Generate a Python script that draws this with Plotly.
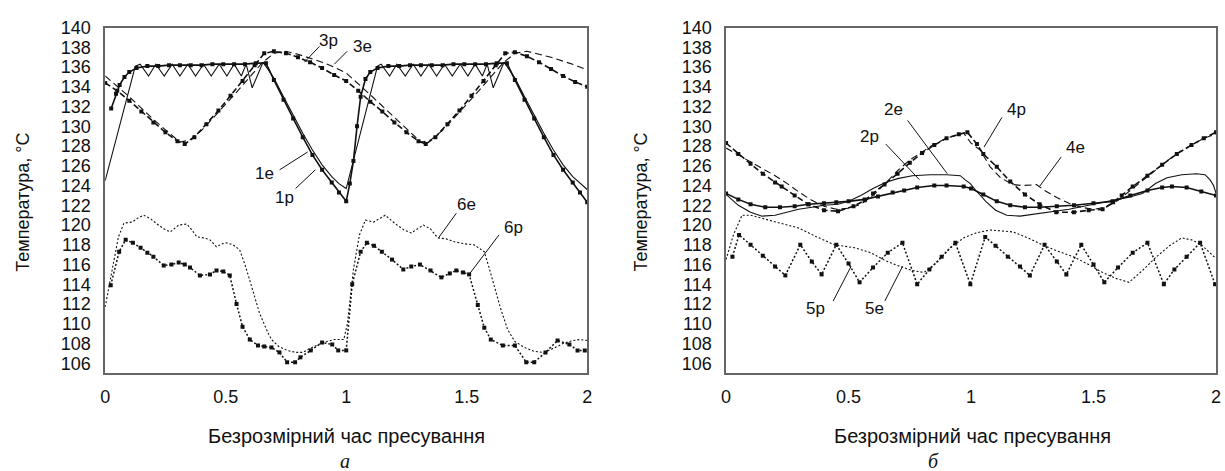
import plotly.graph_objects as go

# ---------------- Panel a (left) ----------------
x_1p = [0.025, 0.045, 0.06, 0.08, 0.1, 0.13, 0.175, 0.22, 0.265, 0.31, 0.355, 0.4, 0.445, 0.49, 0.535, 0.58, 0.625, 0.667,
        0.7, 0.74, 0.78, 0.82, 0.86, 0.9, 0.94, 0.97, 1.0,
        1.015, 1.03, 1.045, 1.06, 1.08, 1.1, 1.13, 1.175, 1.22, 1.265, 1.31, 1.355, 1.4, 1.445, 1.49, 1.535, 1.58, 1.625, 1.667,
        1.7, 1.74, 1.78, 1.82, 1.86, 1.9, 1.94, 1.97, 2.0]
t_1p = [131.8, 133.3, 134.2, 135.0, 135.5, 135.9, 136.1, 136.1, 136.2, 136.2, 136.2, 136.2, 136.3, 136.3, 136.3, 136.3, 136.4, 136.4,
        134.7, 132.7, 130.8, 128.9, 127.1, 125.6, 124.3, 123.3, 122.4,
        124.2, 126.5, 130.0, 133.0, 134.8, 135.5, 135.9, 136.1, 136.1, 136.2, 136.2, 136.2, 136.2, 136.3, 136.3, 136.3, 136.3, 136.4, 136.4,
        134.7, 132.7, 130.8, 128.9, 127.1, 125.6, 124.3, 123.3, 122.3]

x_1e = [0.0, 0.125, 0.145, 0.18, 0.21, 0.245, 0.278, 0.31, 0.343, 0.375, 0.408, 0.44, 0.473, 0.505, 0.535, 0.565, 0.585, 0.61, 0.655,
        0.7, 0.74, 0.78, 0.82, 0.86, 0.9, 0.94, 0.97, 1.0,
        1.13, 1.145, 1.18, 1.21, 1.245, 1.278, 1.31, 1.343, 1.375, 1.408, 1.44, 1.473, 1.505, 1.535, 1.565, 1.585, 1.61, 1.655,
        1.7, 1.74, 1.78, 1.82, 1.86, 1.9, 1.94, 1.97, 2.0]
t_1e = [124.5, 136.1, 136.3, 135.1, 136.3, 135.1, 136.3, 135.1, 136.3, 135.1, 136.3, 135.1, 136.3, 135.1, 136.3, 135.1, 136.3, 133.9, 136.5,
        134.9, 133.0, 131.1, 129.3, 127.6, 126.1, 124.9, 124.2, 123.7,
        136.1, 136.3, 135.1, 136.3, 135.1, 136.3, 135.1, 136.3, 135.1, 136.3, 135.1, 136.3, 135.1, 136.3, 135.1, 136.3, 133.9, 136.5,
        134.9, 133.0, 131.1, 129.3, 127.6, 126.1, 124.9, 124.2, 123.6]

x_3p = [0.0, 0.05, 0.1, 0.15, 0.2, 0.25, 0.3, 0.33, 0.37, 0.42, 0.47, 0.52, 0.57, 0.62, 0.66, 0.7, 0.75, 0.8, 0.85, 0.9, 0.95,
        1.0, 1.05, 1.1, 1.15, 1.2, 1.25, 1.3, 1.33, 1.37, 1.42, 1.47, 1.52, 1.57, 1.62, 1.66, 1.7, 1.75, 1.8, 1.85, 1.9, 1.95, 2.0]
t_3p = [134.4, 133.6, 132.6, 131.5, 130.4, 129.4, 128.5, 128.2, 128.9, 130.2, 131.6, 133.1, 134.6, 136.2, 137.4, 137.6, 137.4, 137.0, 136.5, 135.9, 135.2,
        134.6, 133.6, 132.5, 131.5, 130.4, 129.4, 128.5, 128.2, 128.9, 130.2, 131.6, 133.1, 134.6, 136.2, 137.4, 137.5, 137.1, 136.5, 135.8, 135.1, 134.5, 134.0]

x_3e = [0.0, 0.1, 0.2, 0.31, 0.35, 0.4, 0.45, 0.5, 0.55, 0.6, 0.65, 0.7, 0.75, 0.8, 0.85, 0.9, 0.95,
        1.0, 1.1, 1.2, 1.31, 1.35, 1.4, 1.45, 1.5, 1.55, 1.6, 1.65, 1.7, 1.75, 1.8, 1.85, 1.9, 1.95, 2.0]
t_3e = [135.1, 133.0, 130.7, 128.4, 128.6, 129.6, 130.9, 132.2, 133.6, 135.0, 136.4, 137.4, 137.6, 137.3, 136.9, 136.5, 136.0,
        135.4, 133.2, 130.9, 128.4, 128.6, 129.6, 130.9, 132.2, 133.6, 135.0, 136.4, 137.4, 137.6, 137.3, 137.0, 136.6, 136.2, 135.7]

x_6p = [0.023, 0.058, 0.085, 0.115, 0.147, 0.175, 0.2, 0.243, 0.275, 0.305, 0.33, 0.352, 0.393, 0.435, 0.462, 0.49, 0.517,
        0.545, 0.57, 0.6, 0.634, 0.66, 0.69, 0.723, 0.755, 0.788, 0.81, 0.853, 0.9, 0.942, 0.967, 1.0,
        1.025, 1.06, 1.086, 1.115, 1.148, 1.19, 1.237, 1.27, 1.306, 1.35, 1.395, 1.43, 1.457, 1.485, 1.51,
        1.546, 1.573, 1.6, 1.65, 1.70, 1.747, 1.78, 1.827, 1.877, 1.926, 1.96, 1.99]
t_6p = [113.9, 117.3, 118.5, 118.2, 117.7, 117.2, 116.8, 115.9, 116.0, 116.2, 116.0, 115.7, 114.9, 115.0, 115.4, 115.3, 114.9,
        112.0, 109.7, 108.4, 107.8, 107.7, 107.6, 107.1, 106.1, 106.1, 106.6, 107.3, 108.1, 107.9, 107.3, 107.3,
        114.0, 117.3, 118.2, 117.9, 117.3, 116.5, 115.5, 115.8, 116.0, 115.4, 114.7, 115.1, 115.4, 115.2, 115.0,
        111.9, 109.6, 108.4, 107.8, 107.8, 106.1, 106.1, 107.1, 108.3, 107.9, 107.3, 107.3]

x_6e = [0.0, 0.03, 0.055, 0.078, 0.112, 0.135, 0.16, 0.19, 0.215, 0.245, 0.27, 0.305, 0.339, 0.36, 0.38, 0.41, 0.435, 0.462, 0.485,
        0.503, 0.53, 0.558, 0.58, 0.6, 0.62, 0.64, 0.675, 0.69, 0.72, 0.755, 0.79, 0.82, 0.85, 0.885, 0.92, 0.95, 0.99,
        1.005, 1.03, 1.055, 1.08, 1.114, 1.162, 1.2, 1.24, 1.27, 1.32, 1.35, 1.38, 1.415, 1.45, 1.49, 1.53, 1.573,
        1.595, 1.615, 1.64, 1.67, 1.7, 1.74, 1.78, 1.82, 1.86, 1.9, 1.94, 1.97, 2.0]
t_6e = [111.7, 115.5, 118.8, 120.2, 120.3, 120.7, 121.0, 120.6, 120.1, 119.6, 119.3, 120.0, 120.1, 119.5, 118.8, 118.7, 118.5, 117.8, 118.1,
        118.2, 118.0, 117.5, 116.0, 114.4, 112.7, 111.1, 109.1, 108.4, 107.7, 107.3, 107.1, 107.1, 107.5, 107.9, 108.2, 108.4, 108.4,
        110.0, 115.5, 119.0, 120.5, 120.3, 121.0, 120.2, 119.5, 119.2, 120.0, 119.6, 118.7, 118.6, 118.3, 118.1, 118.0, 117.3,
        115.5, 113.7, 111.6, 109.4, 108.2, 107.6, 107.2, 107.1, 107.5, 108.0, 108.3, 108.4, 108.3]

# ---------------- Panel б (right) ----------------
x_2p = [0.0, 0.05, 0.1, 0.16, 0.22, 0.28, 0.336, 0.4, 0.45, 0.5, 0.566, 0.62, 0.68, 0.727, 0.78, 0.85, 0.9, 0.97,
        1.0, 1.05, 1.105, 1.16, 1.22, 1.28, 1.35, 1.42, 1.5, 1.578, 1.65, 1.72, 1.78, 1.82, 1.88, 1.94, 2.0]
t_2p = [123.2, 122.6, 122.1, 121.8, 121.8, 121.9, 122.1, 122.2, 122.3, 122.4, 122.6, 122.9, 123.3, 123.5, 123.8, 124.0, 124.0, 123.9,
        123.7, 123.1, 122.4, 122.0, 121.8, 121.8, 121.9, 122.0, 122.2, 122.4, 123.0, 123.5, 123.8, 123.9, 123.8, 123.4, 123.0]

x_2e = [0.0, 0.05, 0.1, 0.147, 0.2, 0.25, 0.296, 0.35, 0.4, 0.457, 0.5, 0.55, 0.6, 0.65, 0.7, 0.76, 0.834, 0.9, 0.956, 0.975,
        0.997, 1.02, 1.06, 1.1, 1.146, 1.2, 1.26, 1.32, 1.4, 1.48, 1.578, 1.64, 1.70, 1.753, 1.8, 1.86, 1.92, 1.955, 1.975, 1.99, 2.0]
t_2e = [123.1, 122.0, 121.3, 120.9, 121.0, 121.3, 121.6, 121.8, 122.0, 122.1, 122.4, 123.0, 123.7, 124.3, 124.7, 125.0, 125.1, 125.1, 125.0, 124.6,
        124.2, 123.5, 122.4, 121.5, 121.0, 120.9, 121.1, 121.3, 121.6, 122.0, 122.5, 122.8, 123.2, 124.2, 124.8, 125.1, 125.2, 125.1, 124.6, 124.0, 123.2]

x_4p = [0.0, 0.05, 0.1, 0.15, 0.2, 0.227, 0.28, 0.336, 0.4, 0.457, 0.52, 0.566, 0.6, 0.647, 0.7, 0.75, 0.8, 0.85, 0.9, 0.95, 0.985,
        1.024, 1.05, 1.105, 1.16, 1.22, 1.28, 1.348, 1.42, 1.48, 1.537, 1.58, 1.615, 1.66, 1.72, 1.78, 1.84, 1.9, 1.95, 2.0]
t_4p = [128.3, 127.2, 126.2, 125.2, 124.3, 123.9, 123.0, 122.1, 121.5, 121.4, 121.9, 122.5, 123.2, 124.1, 125.2, 126.3, 127.3, 128.1, 128.8, 129.2, 129.4,
        128.2, 127.2, 125.9, 124.4, 123.1, 122.1, 121.3, 121.3, 121.5, 121.6, 122.3, 123.0, 123.9, 125.0, 126.1, 127.2, 128.1, 128.8, 129.4]

x_4e = [0.0, 0.1, 0.2, 0.25, 0.3, 0.35, 0.4, 0.45, 0.5, 0.55, 0.6, 0.65, 0.7, 0.75, 0.8, 0.85, 0.9, 0.95, 0.97,
        1.0, 1.037, 1.078, 1.12, 1.17, 1.21, 1.267, 1.3, 1.35, 1.4, 1.45, 1.5, 1.55, 1.6, 1.65, 1.7, 1.75, 1.8, 1.85, 1.9, 1.95, 2.0]
t_4e = [127.8, 126.4, 125.0, 124.2, 123.3, 122.5, 121.9, 121.6, 121.7, 122.1, 123.0, 124.2, 125.5, 126.6, 127.4, 128.2, 128.8, 129.2, 129.3,
        128.3, 127.6, 125.9, 124.8, 124.1, 124.0, 124.1, 123.5, 122.8, 122.2, 121.8, 121.6, 121.8, 122.5, 123.5, 124.5, 125.5, 126.5, 127.4, 128.1, 128.8, 129.2]

x_5p = [0.026, 0.053, 0.1, 0.15, 0.2, 0.242, 0.303, 0.35, 0.39, 0.45, 0.5, 0.545, 0.6, 0.66, 0.72, 0.78, 0.83, 0.88, 0.936, 0.997,
        1.058, 1.1, 1.15, 1.2, 1.24, 1.30, 1.35, 1.389, 1.45, 1.5, 1.544, 1.6, 1.66, 1.72, 1.787, 1.83, 1.88, 1.935, 1.996]
t_5p = [116.8, 119.0, 118.0, 116.9, 115.8, 114.9, 118.0, 116.3, 115.0, 118.0, 116.1, 114.2, 115.7, 117.2, 118.2, 114.0, 115.5, 116.8, 118.2, 114.0,
        118.8, 117.9, 116.8, 115.8, 114.9, 118.0, 116.3, 115.0, 118.0, 116.0, 114.2, 115.7, 117.2, 118.2, 114.0, 115.5, 116.8, 118.2, 114.0]

x_5e = [0.0, 0.03, 0.065, 0.1, 0.16, 0.22, 0.296, 0.37, 0.443, 0.525, 0.59, 0.65, 0.7, 0.76, 0.808, 0.86, 0.91, 0.97,
        1.02, 1.078, 1.173, 1.24, 1.3, 1.36, 1.416, 1.48, 1.537, 1.59, 1.645, 1.7, 1.753, 1.81, 1.86, 1.9, 1.94, 1.996]
t_5e = [116.5, 119.0, 121.0, 121.0, 120.6, 120.2, 119.7, 118.8, 118.0, 117.7, 117.2, 116.4, 115.9, 115.4, 115.2, 116.2, 117.6, 118.7,
        119.2, 119.5, 119.3, 118.6, 117.9, 117.3, 116.8, 116.0, 115.2, 114.6, 114.2, 115.4, 116.7, 117.9, 118.7, 118.5, 118.0, 116.7]

y_ticks = list(range(106, 141, 2))
x_ticks = [0, 0.5, 1, 1.5, 2]
x_tick_text = ["0", "0.5", "1", "1.5", "2"]

# curve labels: (text, text_x, text_y, line_x0, line_y0, line_x1, line_y1)
labels_a = [
    ("3р", 0.926, 138.7, 0.889, 138.1, 0.827, 136.5),
    ("3е", 1.066, 138.1, 1.004, 137.6, 0.951, 136.3),
    ("1е", 0.663, 125.2, 0.724, 125.6, 0.840, 127.4),
    ("1р", 0.745, 122.8, 0.790, 123.7, 0.872, 125.6),
    ("6е", 1.498, 122.1, 1.457, 121.2, 1.383, 118.7),
    ("6р", 1.695, 119.8, 1.634, 119.0, 1.510, 115.0),
]
labels_b = [
    ("2е", 0.684, 131.7, 0.741, 130.6, 0.903, 125.2),
    ("2р", 0.587, 129.0, 0.652, 128.2, 0.789, 124.6),
    ("4р", 1.186, 131.7, 1.126, 130.9, 1.053, 127.9),
    ("4е", 1.425, 127.9, 1.368, 126.9, 1.279, 123.9),
    ("5р", 0.364, 111.5, 0.437, 112.3, 0.510, 115.8),
    ("5е", 0.607, 111.5, 0.648, 112.3, 0.720, 115.8),
]

FONT = "Liberation Sans, Arial, sans-serif"
BLACK = "#111111"

fig = go.Figure()


def add(x, y, axis, dash, width, marker=False):
    xa, ya = ("x", "y") if axis == 1 else ("x2", "y2")
    fig.add_trace(go.Scatter(
        x=x, y=y, xaxis=xa, yaxis=ya,
        mode="lines+markers" if marker else "lines",
        line=dict(color=BLACK, width=width, dash=dash),
        marker=dict(size=4, color=BLACK, symbol="square"),
        showlegend=False, hoverinfo="skip"))


# panel a
add(x_1e, t_1e, 1, "solid", 1.1)
add(x_1p, t_1p, 1, "solid", 1.6, True)
add(x_3e, t_3e, 1, "7px,4px", 1.1)
add(x_3p, t_3p, 1, "6px,3px", 1.6, True)
add(x_6e, t_6e, 1, "2px,2px", 1.1)
add(x_6p, t_6p, 1, "2px,2px", 1.5, True)
# panel b
add(x_2e, t_2e, 2, "solid", 1.1)
add(x_2p, t_2p, 2, "solid", 1.6, True)
add(x_4e, t_4e, 2, "7px,4px", 1.1)
add(x_4p, t_4p, 2, "6px,3px", 1.6, True)
add(x_5e, t_5e, 2, "2px,2px", 1.1)
add(x_5p, t_5p, 2, "2px,2px", 1.5, True)

W, H = 1225, 471
top, bottom = 18, 371
ydom = [1 - bottom / H, 1 - top / H]

axis_common = dict(showgrid=False, zeroline=False, showline=True, mirror=True,
                   linecolor="#666666", linewidth=1.5, ticks="",
                   tickfont=dict(family=FONT, size=18, color=BLACK))

fig.update_layout(
    width=W, height=H, margin=dict(l=0, r=0, t=0, b=0),
    paper_bgcolor="white", plot_bgcolor="white",
    xaxis=dict(domain=[101 / W, 587 / W], range=[0, 2], tickvals=x_ticks, ticktext=x_tick_text,
               ticklabelstandoff=7, anchor="y", **axis_common),
    yaxis=dict(domain=ydom, range=[105, 140], tickvals=y_ticks, ticklabelstandoff=9, anchor="x", **axis_common),
    xaxis2=dict(domain=[727 / W, 1221 / W], range=[0, 2], tickvals=x_ticks, ticktext=x_tick_text,
                ticklabelstandoff=7, anchor="y2", **axis_common),
    yaxis2=dict(domain=ydom, range=[105, 140], tickvals=y_ticks, ticklabelstandoff=9, anchor="x2", **axis_common),
)

anns = []
shapes = []
for labels, xr, yr in ((labels_a, "x", "y"), (labels_b, "x2", "y2")):
    for txt, tx, ty, lx0, ly0, lx1, ly1 in labels:
        anns.append(dict(text=txt, x=tx, y=ty, xref=xr, yref=yr, showarrow=False,
                         xanchor="center", yanchor="middle",
                         font=dict(family=FONT, size=17, color=BLACK)))
        shapes.append(dict(type="line", x0=lx0, y0=ly0, x1=lx1, y1=ly1, xref=xr, yref=yr,
                           line=dict(color=BLACK, width=1)))

# axis titles and panel letters
for cx, lx, letter, ytx in ((344, 343, "а", 18), (975, 936, "б", 641)):
    anns.append(dict(text="Безрозмірний час пресування", x=cx / W, y=1 - 435 / H, xref="paper", yref="paper",
                     xanchor="center", yanchor="middle", showarrow=False,
                     font=dict(family=FONT, size=20, color=BLACK)))
    anns.append(dict(text=letter, x=lx / W, y=1 - 461 / H, xref="paper", yref="paper", showarrow=False,
                     xanchor="center", yanchor="middle",
                     font=dict(family="Liberation Serif, Times New Roman, serif", size=20, color=BLACK, style="italic")))
    anns.append(dict(text="Температура, °С", x=ytx / W, y=1 - 196 / H, xref="paper", yref="paper",
                     xanchor="center", yanchor="middle", showarrow=False, textangle=-90,
                     font=dict(family=FONT, size=18, color=BLACK)))

fig.update_layout(annotations=anns, shapes=shapes)
fig.write_html("out.html", config={"displayModeBar": False},
               post_script="document.body.style.margin='0';document.body.style.padding='0';")
